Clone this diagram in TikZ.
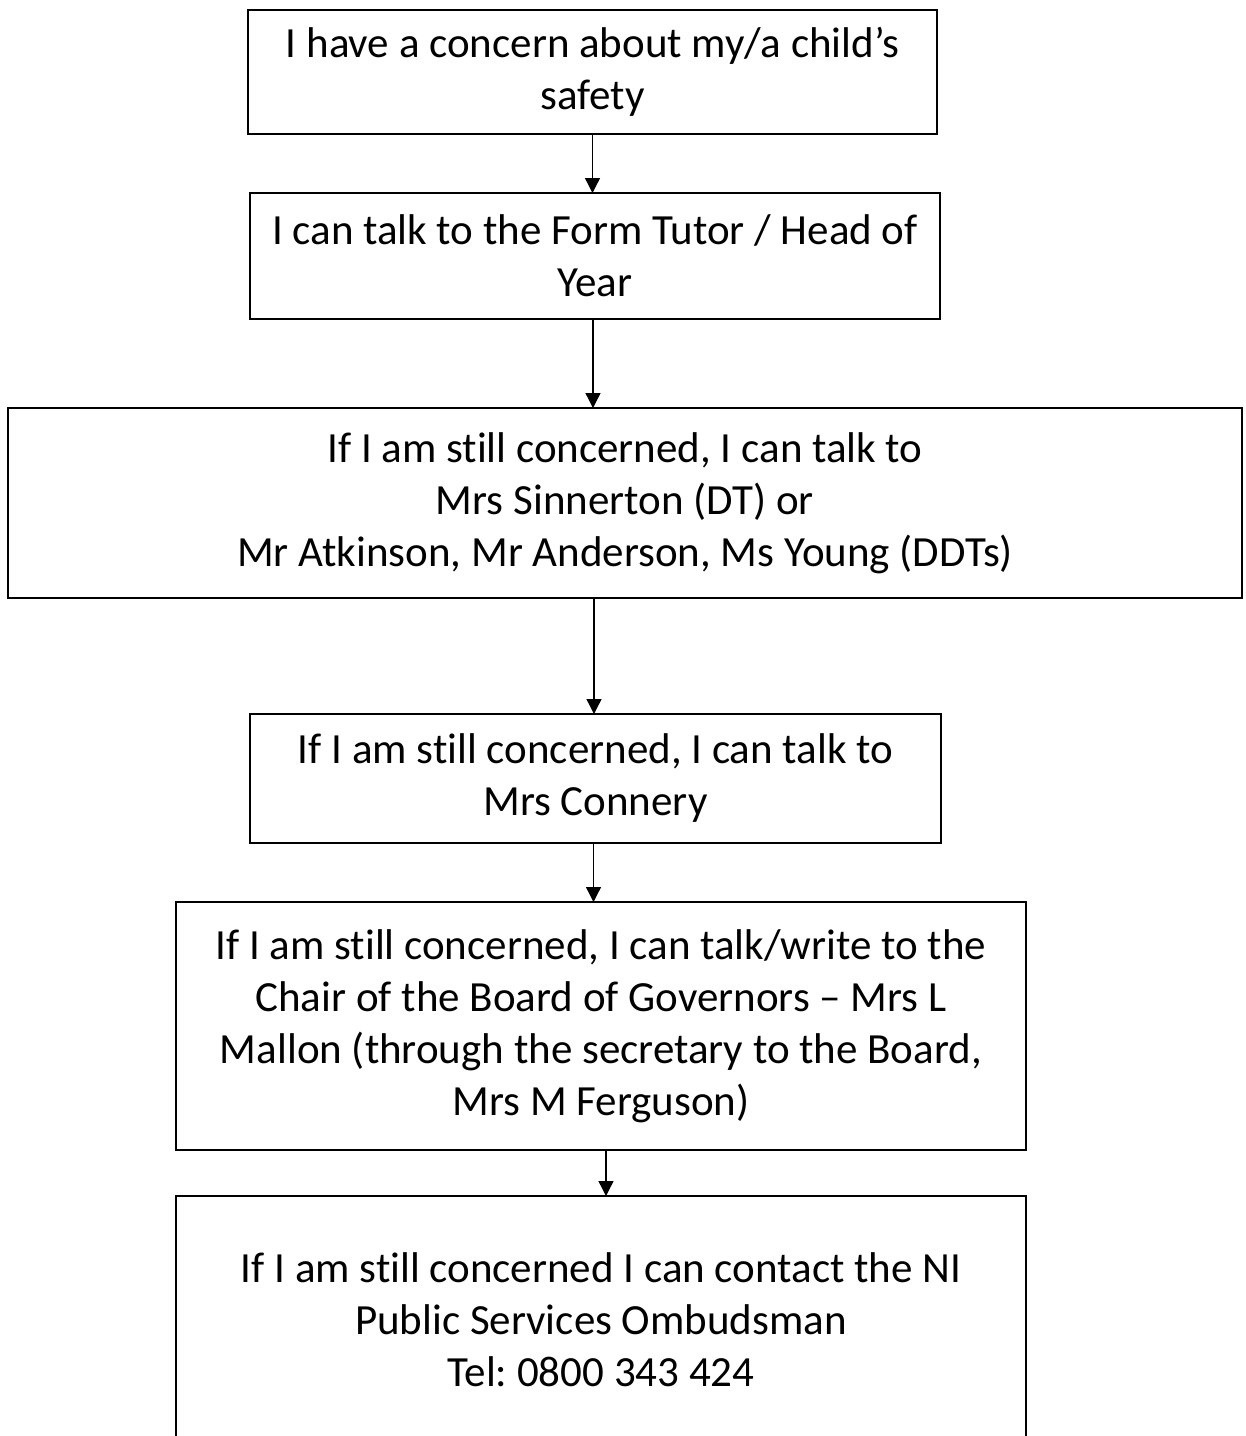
\documentclass[tikz,border=0pt]{standalone}
\usepackage{fontspec}
\setmainfont{Carlito}[Ligatures=NoCommon]
\frenchspacing
\usetikzlibrary{arrows.meta}
\begin{document}
\begin{tikzpicture}[x=1pt,y=-1pt,every node/.style={draw,solid,shape=rectangle,line width=1.6pt,inner sep=0pt,outer sep=0pt,align=center,font=\fontsize{43}{52}\selectfont}]
  \useasboundingbox (0,0) rectangle (1246,1436);

  % Specification of nodes (position, size, text)
  \node[minimum width=689pt,minimum height=124pt] (concern) at (592.5,72) {I have a concern about my/a child’s\\safety};
  \node[minimum width=690pt,minimum height=126pt] (tutor) at (595,256) {I can talk to the Form Tutor / Head of\\Year};
  \node[minimum width=1234pt,minimum height=190pt] (dt) at (625,503) {If I am still concerned, I can talk to\\Mrs Sinnerton (DT) or\\Mr Atkinson, Mr Anderson, Ms Young (DDTs)};
  \node[minimum width=691pt,minimum height=129pt] (connery) at (595.5,778.5) {If I am still concerned, I can talk to\\Mrs Connery};
  \node[minimum width=850pt,minimum height=248pt] (chair) at (601,1026) {If I am still concerned, I can talk/write to the\\Chair of the Board of Governors – Mrs L\\Mallon (through the secretary to the Board,\\Mrs M Ferguson)};
  \node[minimum width=850pt,minimum height=248pt] (ombud) at (601,1320) {If I am still concerned I can contact the NI\\Public Services Ombudsman\\Tel: 0800 343 424};

  \begin{scope}[-{Triangle[width=15pt,length=15pt]},line width=1.3pt]
    \draw (concern.south) -- (concern.south |- tutor.north);
    \draw ([xshift=-2pt]tutor.south) -- ([xshift=-2pt]tutor.south |- dt.north);
    \draw ([xshift=-31pt]dt.south) -- ([xshift=-31pt]dt.south |- connery.north);
    \draw ([xshift=-2pt]connery.south) -- ([xshift=-2pt]connery.south |- chair.north);
    \draw ([xshift=5pt]chair.south) -- ([xshift=5pt]chair.south |- ombud.north);
  \end{scope}

\end{tikzpicture}
\end{document}
